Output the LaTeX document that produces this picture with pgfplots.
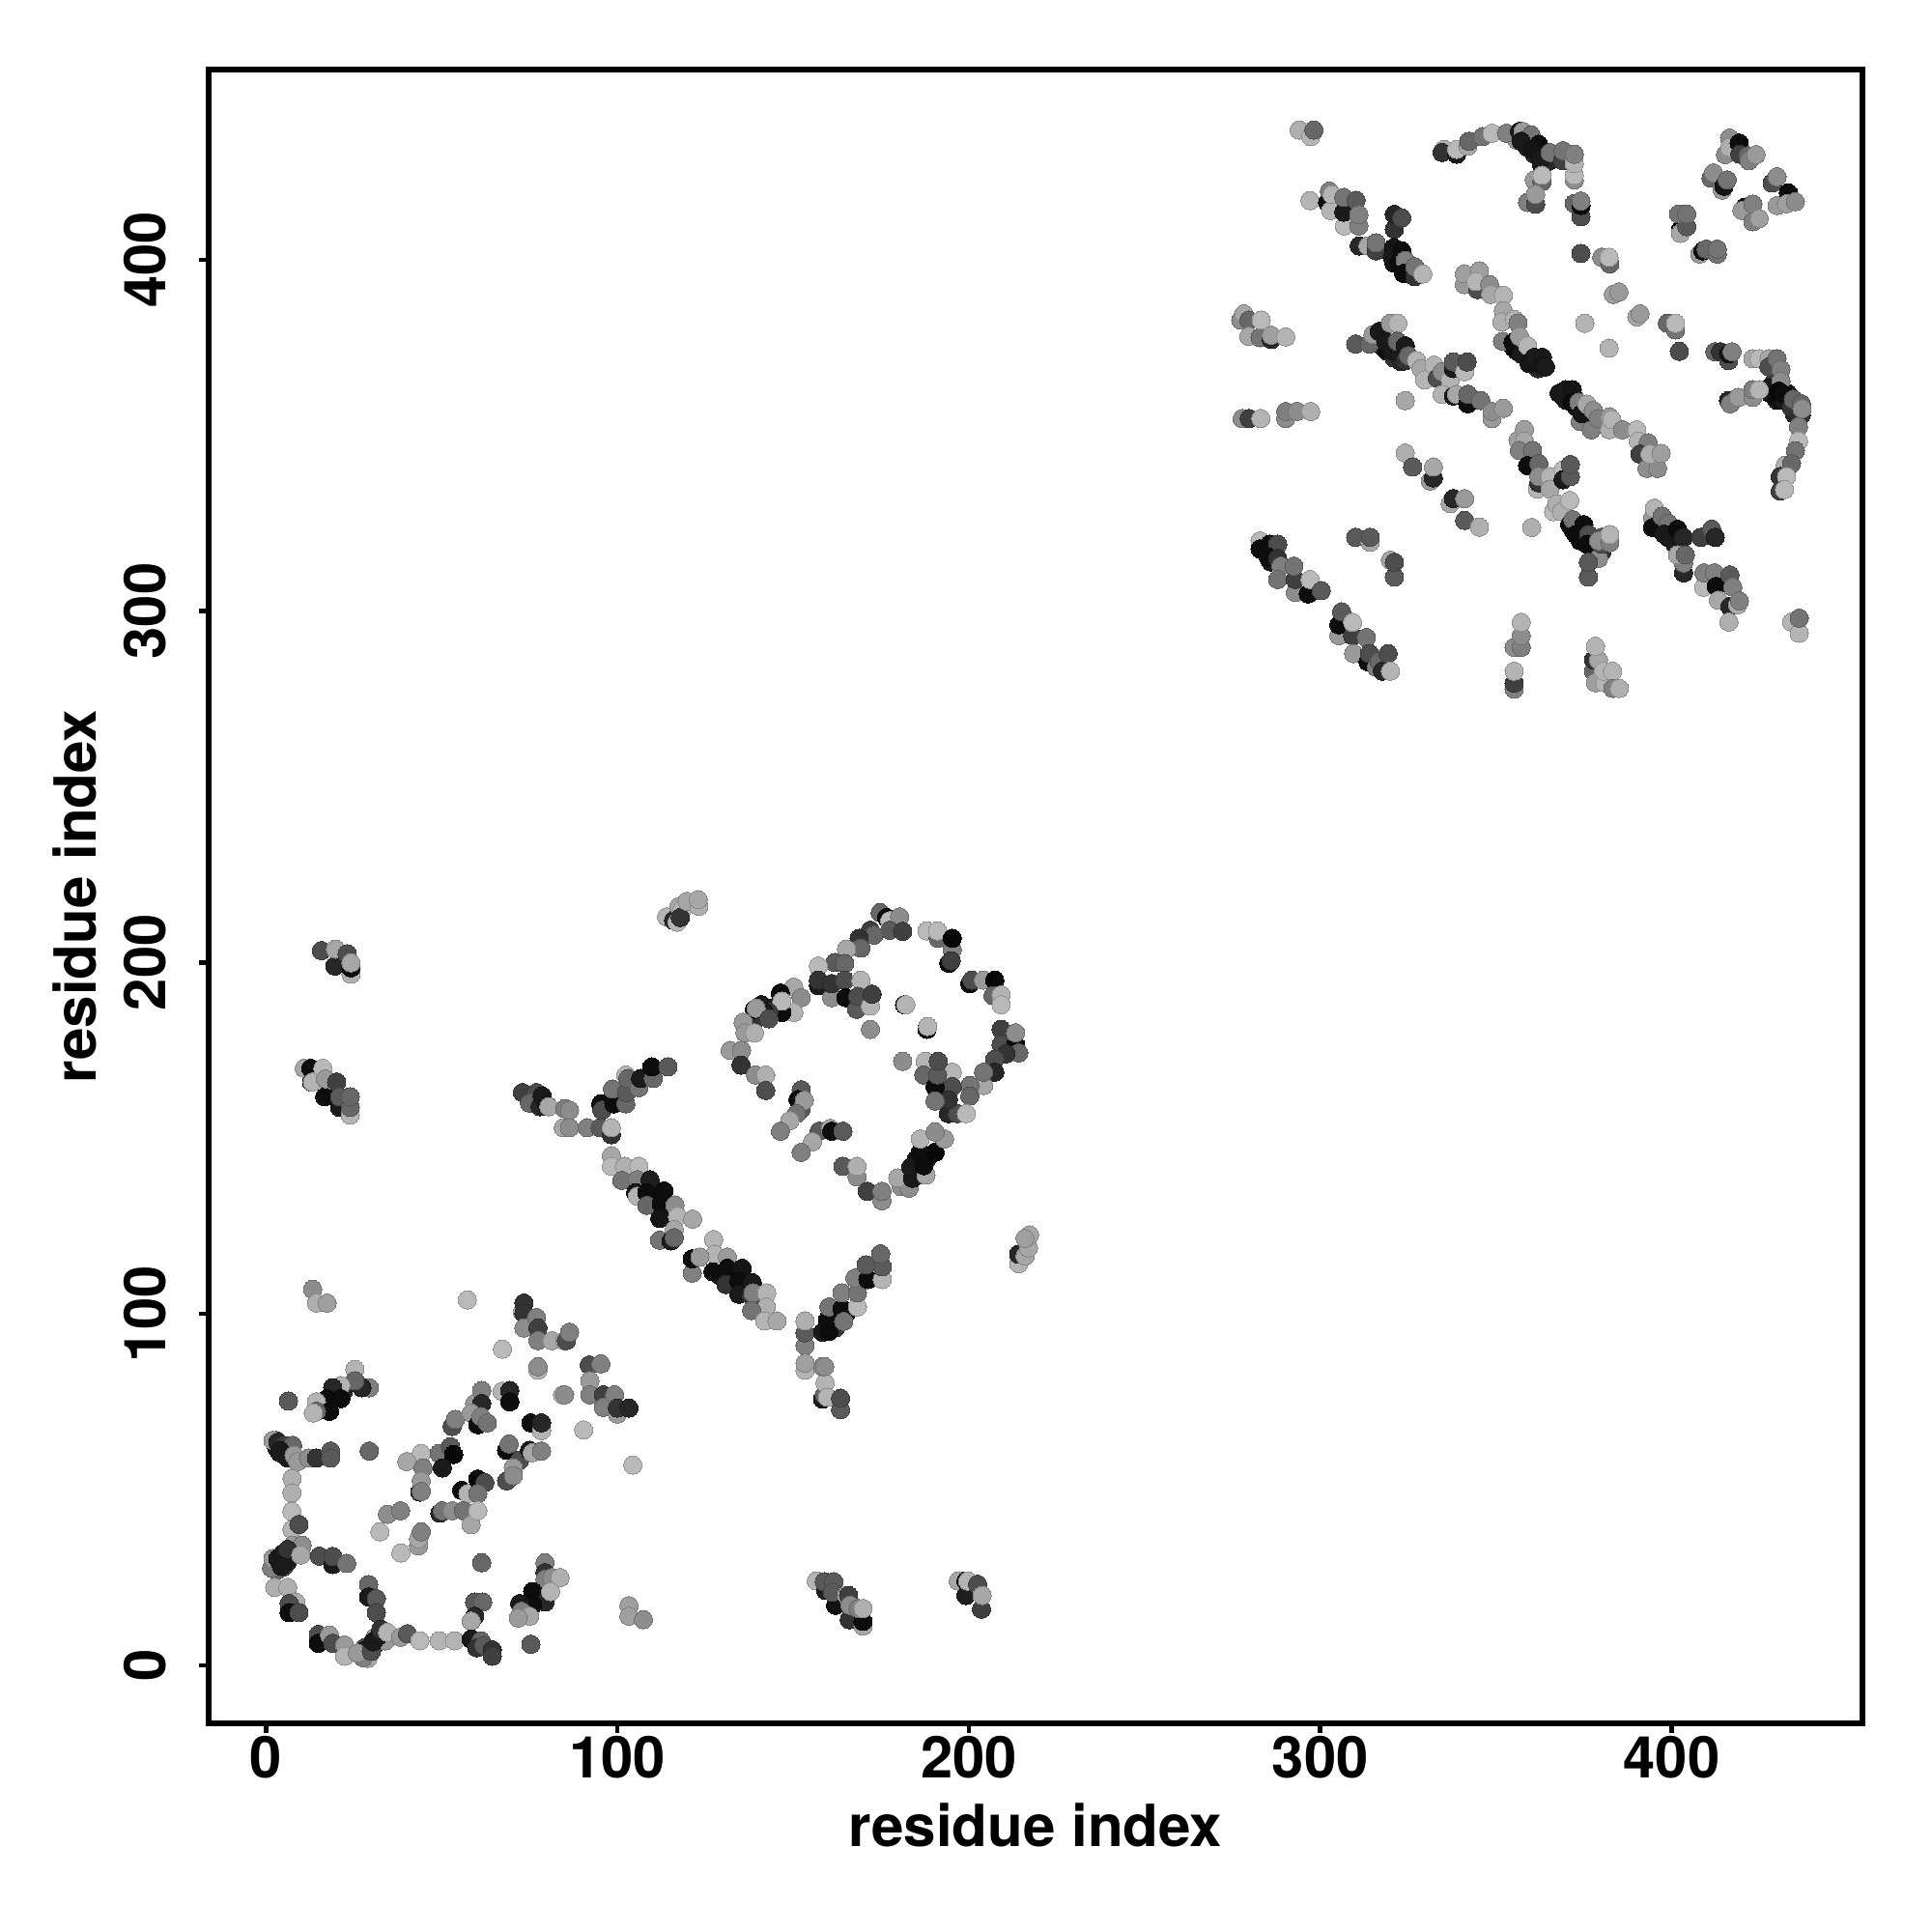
\documentclass[border=0pt]{standalone}
\usepackage{pgfplots}
\pgfplotsset{compat=1.18}
\usepackage{fontspec}
\setmainfont{TeX Gyre Heros}

% residue contacts: x y grey level
\pgfplotstableread{
x y g
3 27 .4
4 29 .1
5 30 .05
6 31 .1
3 29 .15
2 28 .55
5 28 .3
7 31 .3
8 32 .6
27 3 .4
28 3 .1
29 4 .1
30 5 .05
31 6 .05
32 7 .1
33 8 .3
31 8 .6
29 2 .65
28 5 .3
34 7 .6
3 62 .1
4 60.5 .1
5 60 .2
6 61 .3
7 59 .6
3 64 .3
5 62 .35
17 74 .1
19 77 .05
20 78 .1
16 73 .3
22 78 .15
109 133 .05
110 136 .15
111 131 .05
112 133 .1
113 130 .1
114 129 .05
129 111 .1
133 111 .1
135 107 .05
136 110 .1
137 108 .05
131 110 .2
160 97 .1
161 99 .1
162 96 .2
165 100 .1
185 144 .05
186 142 .1
188 144 .1
184 141 .5
141 188 .1
142 186 .6
144 187 .1
145 186 .3
358 435 .15
359 432 .1
360 434 .3
361 430 .15
362 431 .2
363 427 .1
364 429 .2
365 428 .15
356 434 .6
316 378 .15
317 377 .05
318 375 .1
319 374 .05
321 372 .2
322 374 .05
323 371 .15
321 399 .08
322 401 .1
323 398 .1
324 397 .15
325 396 .3
355 375 .1
356 374 .05
358 373 .05
359 372 .1
361 371 .1
362 369 .15
368 362 .1
370 360 .1
372 361 .05
373 358 .1
375 357 .05
376 355 .1
377 354 .08
374 354 .5
372 323 .05
373 322 .1
374 320 .05
375 322 .1
377 319 .05
378 317 .1
380 321 .35
396 325 .1
397 323 .05
398 324 .3
399 321 .05
400 322 .2
401 319 .1
402 320 .05
428 362 .1
430 360 .05
431 364 .05
432 360 .1
433 362 .1
434 359 .1
435 356 .15
429 365 .2
284 318 .05
285 316 .05
286 314 .1
286 318 .15
13.3 107 .55
14.4 103.1 .68
17.4 103.1 .62
57.3 104 .72
73 100.6 .7
73.4 103.1 .2
73.4 100.2 .2
73.4 96 .55
77 99 .5
77.4 96 .25
77.4 92.4 .5
81.4 92.4 .65
85 92.4 .65
85.5 92.4 .3
86.4 94.8 .5
67.3 90 .72
77.4 84 .7
77.4 85 .55
92 85.5 .3
95.3 85.8 .5
92.2 81 .6
92.2 77 .5
96 77 .25
96 73.4 .5
99.2 77 .5
100 71.5 .6
100 73.2 .2
103.3 73.2 .15
84.4 77 .7
85 77 .55
90.4 67 .72
104.4 57 .72
25.3 84.2 .7
29.4 79 .5
27.3 79 .15
25.3 81 .4
21.3 79.6 .7
19 79 .15
21.3 75.9 .05
17.4 75.9 .05
14.4 75 .7
18.1 72.3 .05
14.4 72.3 .4
13.5 71.8 .7
6.4 75.2 .35
2 64 .6
3.4 63.5 .15
5.3 62.6 .25
7.6 62.6 .4
4 61.2 .1
6.2 59 .1
8 59.8 .6
9 58 .6
12.1 59 .55
14.4 59 .2
18.4 61 .35
18.4 59 .35
29.4 61 .4
7.4 53.2 .68
7.4 49.1 .68
7.4 43.8 .72
7.4 38.7 .7
9.4 40.1 .3
7.6 34.2 .6
10.3 34.2 .55
1.6 27.7 .5
2 30.4 .6
3.4 30.4 .1
4.8 31.8 .1
6.2 29.6 .1
6.2 33 .2
4.4 28.2 .1
9.9 31.4 .65
15.2 31.1 .3
19 28.7 .1
19 31 .3
23 29 .45
29.2 23 .4
29.2 19.5 .1
31.4 19 .35
31.4 15 .3
79.4 29.2 .5
79.4 26.4 .2
79.4 24.5 .5
81.4 25 .55
83.7 25 .68
61.4 29.2 .4
75.9 21 .05
79.4 18 .15
75.9 17.2 .05
72.2 17.6 .1
81 21 .7
72.7 15.4 .5
75 14 .65
71.8 13.5 .6
75.4 6 .35
103.3 17 .62
103.3 14 .62
107.4 13 .55
2.5 22.2 .68
6.2 22.2 .68
8.5 18 .68
6.6 17.6 .3
6.6 15 .05
9.4 15 .3
14.9 8.8 .3
14.9 6.3 .05
18.1 8.6 .6
19 6.3 .3
22.4 5.8 .6
22.4 2.6 .7
27.7 2.2 .5
28.2 4.4 .1
26 3.5 .6
30 4 .3
30.5 6.7 .1
32.3 8.6 .1
32.7 10.3 .2
34.6 9.4 .7
38.3 8 .6
40.3 9 .35
43.8 7 .72
49.3 7 .7
53.7 7 .7
59.4 18 .35
61.7 18 .4
59.4 14 .15
58.4 12.6 .65
58.4 7.5 .1
61.2 7 .4
60 5 .2
62 5.7 .35
64.4 4.4 .2
64.4 2.6 .25
59.4 74.5 .6
61.4 78.2 .5
61.4 74.5 .15
67.2 78 .7
69.4 78.2 .15
69.4 75 .05
53 68 .3
53.9 70 .5
58.4 71.8 .6
60.3 68.5 .05
61.2 70.8 .5
63 69 .45
75.4 69 .05
78.4 66.8 .7
78.4 69 .15
68.5 61.2 .05
69.2 63 .45
72.2 58.4 .3
75 61.2 .1
75.8 60.5 .65
78.4 61 .5
70.4 56.2 .6
68.5 52.5 .3
70.4 54 .55
44.2 60.3 .72
40.1 58 .65
44.7 56.2 .5
49.3 60.3 .45
52.5 62.2 .35
53.4 60 .03
50.2 56.2 .1
43.8 49.3 .15
44.2 52.5 .6
44.2 49.5 .5
55.7 49.8 .05
57.5 48.9 .7
60.3 53 .03
62.3 52 .3
60.3 48.9 .45
34.6 43 .55
38.3 44 .5
49.5 43.3 .15
50.2 44 .45
53 44 .55
56.2 44 .45
58.4 40 .65
60.3 44 .72
32.4 38 .72
38.4 32 .72
43.4 34 .6
43.4 36 .65
44.2 38 .5
73 163 .25
77 163 .3
75 160 .4
78 159 .15
78.6 162 .1
80 159.3 .1
80.5 159 .65
85 158.4 .5
86.4 158 .55
84.6 153 .65
86.4 153 .55
91.4 153 .5
95.1 153 .35
98.3 151 .2
98.3 153 .7
95.3 159.8 .05
95.6 158 .3
99 159.8 .05
98.6 164 .45
102.4 159.8 .4
102.6 163 .35
102.4 168 .7
103 167 .4
106.1 164.4 .45
106.6 167 .1
110.2 167 .4
109.8 170.3 .05
114.4 170.3 .35
98.3 145 .65
98.3 142 .72
102 142 .68
106.1 142 .72
101.3 138 .45
105.7 138.2 .5
109.3 138.2 .12
105.2 134.5 .1
105.7 133.5 .7
108.4 134.5 .05
113.3 135 .05
108.4 130.9 .4
112.5 131.3 .05
116.4 131 .55
112.1 127.2 .08
117.1 127.8 .7
121.4 127 .65
116.2 124 .65
112 121 .45
115.3 120.8 .1
116.2 121.7 .4
127.4 121.2 .7
127.7 117 .7
131.3 116.2 .6
121.3 111.6 .5
121.3 115.7 .05
123.5 116.2 .6
127.2 112 .05
131.3 113 .05
130.9 108.4 .2
135.5 113 .08
134.6 109.3 .05
138.4 108.9 .1
134.6 105.6 .1
138.2 105.2 .25
138.6 106 .5
142.5 106 .7
142.4 102 .68
138.2 101 .45
141.9 98 .7
145.4 98 .65
153.4 91 .5
153.4 94.6 .35
153.4 98 .68
153.4 84 .7
153.4 86 .62
158.4 75.8 .1
158.9 77 .4
159.1 80.4 .7
158.4 85 .55
159 85 .55
159.8 76.3 .7
163.5 72.8 .35
163.5 76 .3
158.4 94.8 .1
160.2 95 .05
159.8 98.3 .05
160.2 102 .45
163.9 101.5 .05
164.4 97.9 .45
163.9 106 .5
168.3 102 .72
168.3 106 .45
167.6 110.2 .5
171.3 109.8 .05
175.4 109.8 .7
170.8 114 .35
175.4 113.4 .35
174.9 117.1 .4
114 213 .7
116 212 .15
117 211.5 .7
117.5 216 .65
118.4 215 .7
117.9 212.8 .2
119.8 217.4 .65
123.2 216 .68
123 217.9 .65
174.8 214.2 .4
176.6 212.8 .05
177.5 211.9 .72
180.3 213 .55
177.5 209.2 .35
172 209.2 .25
173 207.8 .4
168.8 206.9 .2
181.2 208.9 .25
169.3 204.1 .4
165.2 203.8 .65
161.9 200 .35
164.7 199.7 .4
157.2 199 .72
188.1 209 .72
191.3 206.9 .4
191.1 209 .72
195.3 203.7 .5
194.3 199.8 .05
195 200.5 .25
195.3 206.9 .03
200.3 194 .05
200.9 195 .3
204.2 195 .6
207.4 195 .03
206.9 190.6 .4
209.2 190.8 .7
209.2 188 .72
157.2 193.4 .1
157.2 195 .2
161 190 .55
161 194 .2
164.7 195 .3
165 190 .05
169.3 195 .7
168.1 186.7 .35
168.4 190.4 .3
172 187.6 .7
172.5 191 .25
172 181 .55
181.7 188 .03
182.1 188 .7
188.1 181 .03
188.3 181.8 .7
150.2 193 .65
152.3 190 .55
150.2 185.8 .7
146.4 191.3 .05
146.8 185.8 .05
146.8 189 .72
143.1 185.8 .25
141.8 186 .1
139.5 184 .2
139 186.7 .05
139.5 187 .6
143.1 184 .3
135.8 183 .6
136.3 180 .6
139 180 .68
132.1 175 .6
135.3 175 .55
135.2 170.8 .2
139.3 168 .55
142.2 168 .68
142.2 163.6 .3
152.3 163.8 .35
151.4 161 .05
152.3 158.3 .35
153.2 160.8 .6
151 157 .45
149.1 155 .65
146.4 152 .5
157.4 152 .35
160.6 152.8 .65
161 152 .05
164.2 152 .35
155.5 149 .65
152.3 146 .5
164.2 142 .35
168.2 139 .55
168.2 142 .68
171.1 134.9 .25
175.3 132.2 .55
175.3 134.9 .5
180.8 136.2 .55
183 135.8 .55
179.8 138.7 .65
184 138.6 .1
183.5 141.8 .1
187.2 139.5 .1
187.8 139.5 .65
187.2 142.2 .05
186.2 146 .05
190.4 146 .03
186.2 149.8 .7
193.1 149.8 .6
190.4 151.8 .55
209.2 181 .25
209.2 176.6 .3
213.3 176.6 .05
213.3 180 .55
214.2 174.3 .4
210.6 174 .2
207.4 172.5 .3
207.4 168.8 .15
204.2 165 .65
204.2 168.8 .45
200.3 165 .45
200.3 162 .4
195.3 168.8 .7
194.2 157 .15
196.8 157 .3
199.3 157 .72
195.3 164.7 .3
194.2 161 .2
187.6 171.9 .7
187.2 168 .4
190.4 164.7 .05
190.4 160.6 .45
191.1 168 .35
191.3 171.9 .3
181.2 171.9 .55
214.2 114.3 .7
214.2 117 .15
216 116.5 .65
217 118.8 .65
217.3 122.5 .65
216 121.5 .62
294 436.9 .68
297.3 435 .7
298.2 436.9 .4
335.2 431.4 .7
334.7 430.5 .2
338.8 430 .1
338.8 431.4 .72
342 432.3 .65
342.3 433.7 .4
346.2 435 .45
348.9 436 .72
353 436 .5
356.7 436.5 .1
357.7 436.5 .6
360 435.5 .45
357.2 433.7 .1
362.2 432.8 .05
360.4 431.4 .08
362.7 428.7 .1
365.4 430.5 .45
369 428.2 .25
369.1 431 .45
372.3 422.7 .55
372.3 424 .72
372.3 427.3 .7
372.3 430 .5
360.9 422.7 .6
363.1 422.2 .4
363.1 424 .72
359 416.3 .5
361.3 415.8 .3
361.3 418.6 .6
372.3 416 .4
374.2 412.2 .3
374.2 415.4 .05
374.2 416.7 .5
374.2 401.8 .3
380.1 400.7 .55
382.4 398.8 .4
382.2 400.7 .72
383.4 390.1 .62
385 390.8 .6
375.3 381.9 .7
382.2 374.8 .7
390.1 383.7 .65
391 384.6 .6
398.8 381.9 .4
401.1 380 .45
401.1 381.9 .72
402.2 373.9 .3
412.3 373.8 .4
413.9 373.8 .2
416.2 371.3 .3
416.2 373.2 .08
417.2 373.8 .5
423.1 371.8 .65
424.9 371.8 .72
427.7 371.8 .65
427.7 369.5 .3
430 371.8 .45
431.1 368.8 .5
427.7 363.5 .1
431.1 365.4 .55
430.5 362.6 .03
431.8 361.7 .05
434.1 358 .2
434.6 360.3 .4
436.9 355.8 .2
436.9 359 .4
437.1 357.6 .55
436.1 352.5 .5
436.1 348.4 .72
435.2 345.6 .45
432.3 341.5 .68
434.1 342 .4
430.9 338.3 .2
432.7 338.3 .72
430.9 334.2 .25
432.1 334.6 .72
416.2 359.9 .15
416.7 359 .5
419 360.8 .6
423.1 360.8 .55
423.1 363 .5
424.9 363 .7
415.3 429.9 .55
416.5 434.6 .55
416.5 431.9 .68
419.2 433.2 .05
419.4 430 .25
421.7 429.6 .4
422 428.2 .5
424 429.9 .6
411.2 423.2 .4
411.9 424.7 .55
414.4 419.8 .6
414.9 420.9 .08
415.8 422.7 .45
428.6 421.8 .3
430 423.6 .55
430 415.4 .6
433.2 419 .05
432.7 415.9 .62
435.2 416.5 .55
420.8 414.9 .05
420 414 .6
423.1 415.8 .5
423.1 410.8 .5
424.9 411.7 .62
402.5 408.5 .03
402.5 407.5 .65
404.3 409.4 .35
402 413 .45
404.3 413 .45
408 401.6 .6
408.9 402.5 .05
409.8 403 .4
413 401.6 .45
413 403 .45
297.1 416.8 .7
302.1 416.3 .05
303 414 .7
302.6 419.5 .5
303.4 418.5 .7
306.9 409.6 .72
306.7 413.5 .1
306.7 417.7 .45
311 409.6 .5
310.2 416.9 .35
311 412.8 .5
321.1 408.7 .2
321.1 412.9 .15
323.2 411.9 .3
311.1 403.9 .15
313.6 403.9 .65
315.9 402.5 .25
315.9 404.8 .45
320.9 403.4 .08
320.5 400.7 .1
323.2 402.5 .05
322.3 398.9 .05
324.2 399.8 .5
323.7 396.1 .05
326.9 395.2 .2
326.9 398 .45
329.2 395.9 .7
341 392.9 .6
341 396 .62
345.3 396.8 .62
344.8 391.5 .3
344.3 393.8 .7
348.2 392.9 .55
348.5 390.1 .65
352.1 389.9 .7
352.1 385.5 .65
351.7 382.3 .68
355.2 383 .7
356.3 382 .5
351.9 376.8 .5
354.9 376.4 .05
356.7 378.2 .6
357.2 373.2 .1
359 375.5 .7
359.5 370.4 .08
360.9 372.2 .1
363.2 372.2 .1
363.2 370 .08
364.1 369.5 .1
277.4 382.8 .55
278.3 384.6 .65
279.7 382.8 .4
279.7 378.2 .65
282.9 377.8 .45
286.1 377.3 .15
286.1 378.5 .62
283.2 382.8 .72
290.2 378 .7
277.8 354.8 .55
279.8 354.8 .25
283.1 354.8 .7
290.2 354.8 .55
290.2 356.8 .5
293.4 356.8 .55
297.3 356.8 .68
310.1 376 .35
314 376 .4
315 378.7 .6
316.8 379.6 .1
318.6 376.8 .1
320 381.9 .6
322.1 381.9 .7
320.5 374 .1
321.9 376.8 .4
324.2 375.5 .1
324.2 371.3 .2
325.1 372.7 .4
327.4 371.3 .7
328.7 369 .65
329.7 365.8 .7
332.4 370 .7
333.3 366.3 .3
334.7 368.1 .55
337 365.8 .7
334.7 361.7 .7
337.9 369 .1
337.9 370.9 .35
341.1 368.1 .72
341.8 370.9 .3
337.9 361.2 .1
338.8 361.7 .65
342 359 .05
342 361.7 .4
345.7 359.9 .45
348.9 354.8 .6
348.9 356.8 .55
352.1 357.7 .6
324.2 359.9 .65
369 361.2 .1
369.9 363 .1
371.7 363 .08
371.7 359.4 .05
373.6 359.4 .5
374.5 356.2 .08
377.1 351.6 .5
375.9 358.9 .65
377.7 357.1 .55
379.1 354.8 .5
382.3 351.6 .68
382.3 355.3 .6
383 354.5 .7
386 351.6 .55
390.1 351.6 .72
390.5 348.4 .7
393.3 347.9 .5
391 344.7 .25
393 340.6 .55
396 340.6 .55
393.8 344.7 .68
397 344.9 .62
356.3 348.6 .62
358.1 351.7 .62
358.1 348.4 .65
356.7 345.7 .5
360.4 345.7 .45
359 341.4 .05
362.2 342 .4
361.8 334.7 .7
362.2 336.5 .2
362.2 338.3 .55
365.4 338.3 .7
365.4 334.7 .65
366.4 328.3 .72
367.3 330.5 .68
368.7 328.3 .68
369.1 340.2 .72
369.1 337.4 .1
371.2 338.3 .35
371.2 341.7 .35
371 331.5 .72
371 324.6 .05
371.9 326 .45
375 324.6 .05
372.8 321.8 .05
376.4 321.8 .3
376 319 .05
380.1 316.8 .2
379.2 315 .55
380.1 319 .3
379.2 320 .55
382.4 319.5 .5
382.4 321.8 .7
376.3 309.7 .35
376.3 313.9 .35
360.2 323.8 .68
324.2 345 .68
326.3 341 .35
331.3 337 .6
332.2 337.9 .15
332.2 341 .65
337 330.6 .65
337.9 332 .15
341.1 332 .6
341.1 325.8 .35
345.3 323.9 .68
310.1 321 .35
314.2 319.6 .65
314.2 321 .35
320 314.5 .65
321.1 309.7 .35
321.1 313.9 .3
282.9 320 .72
282.9 317.7 .05
285.6 319 .05
287.9 319 .3
285.2 315.4 .05
287.9 315 .2
288.8 312.8 .5
287.9 309 .45
292.9 305.3 .55
292.9 309 .25
292.5 312.8 .45
296.6 304.9 .05
297.1 309 .72
300.3 305.8 .35
305.3 293 .6
305.3 296.1 .05
306.1 299.8 .35
309.2 293 .25
309.2 296.8 .72
313.1 292.5 .45
309.5 287.9 .6
313.6 285.6 .05
314 287.9 .3
316 284 .5
316.8 285.6 .4
317.7 282.9 .15
319.3 287.9 .3
320 282.9 .7
355.2 289.7 .55
357.2 289.7 .5
357.2 293 .55
357.2 296.8 .7
355.2 277.8 .5
355.2 279.5 .25
355.2 282.9 .7
377.8 282.9 .4
377.8 286.1 .2
378.3 279.6 .62
381 279.6 .7
379.2 286.1 .65
378.3 290 .7
380.6 282.9 .7
383.2 282.9 .7
383.3 278 .5
385.1 278 .68
394.6 326.5 .6
395.1 329.3 .7
394.6 323.8 .05
397.3 327 .45
399 325.1 .45
397.9 321.9 .1
400 320.5 .1
401.7 323.3 .05
403.4 321 .15
403.4 310.9 .15
403.4 313.7 .5
401.7 316 .65
403.9 316 .4
408.3 321 .25
411.4 323.3 .35
412.4 321 .15
409.1 306.8 .72
409.2 310.9 .5
412.2 310.9 .5
412.7 307 .05
413.3 303.1 .65
416.6 301.3 .15
416.6 310.3 .35
417.4 306.8 .5
418.8 301.8 .68
419.3 302.9 .5
416.3 296.9 .68
434.1 296.9 .7
436.3 293.7 .7
436.3 298 .45
156.6 24 .7
159.3 21.3 .12
158.9 23.8 .35
162.1 17.1 .07
161.6 23.8 .35
161.2 20.8 .35
165.3 19.9 .7
165.8 19.9 .25
166 13 .2
166.2 17.1 .55
169.9 11.2 .65
169.9 12.5 .05
168.5 16.2 .5
169.9 16.2 .68
197 24 .65
199.2 24 .05
199.2 19.9 .12
199.7 24 .7
203.6 16 .25
202.5 23.1 .3
203.8 19.9 .65
15.8 203.4 .3
19.6 199 .15
19.8 203.8 .65
23.1 202.5 .3
24.2 196.7 .68
24.2 198.5 .05
24.2 199.9 .65
10.9 169.9 .65
12.8 169.9 .05
13 166 .05
13.2 166 .7
16.2 169.9 .72
16.7 161.8 .05
16.9 166.9 .6
20.1 166 .25
21 158.8 .1
21 161.8 .35
24 156.6 .7
24 158.8 .4
24 161.8 .4
}\contacts

\begin{document}
\begin{tikzpicture}
\path[use as bounding box] (0,0) rectangle (200mm,200mm);
\begin{axis}[
    at={(21.6mm,21.6mm)},
    anchor=south west,
    scale only axis,
    width=171.2mm,
    height=171.2mm,
    xmin=-16.3, xmax=454.3,
    ymin=-16.5, ymax=454.1,
    xtick={0,100,200,300,400},
    ytick={0,100,200,300,400},
    xtick pos=bottom,
    ytick pos=left,
    tick align=outside,
    major tick length=1mm,
    axis line style={line width=0.55mm},
    tick style={line width=0.45mm,black},
    /pgf/number format/assume math mode=true,
    tick label style={font=\fontsize{17}{20}\selectfont\bfseries},
    xticklabel style={anchor=base,yshift=-4.6mm},
    yticklabel style={rotate=90,anchor=base,yshift=3.4mm},
    label style={font=\fontsize{17.1}{20}\selectfont\bfseries},
    xlabel={residue index},
    ylabel={residue index},
    xlabel style={at={(axis description cs:0.5,-0.0745)},anchor=base},
    ylabel style={at={(axis description cs:-0.0683,0.5)},anchor=base},
    colormap={greys}{gray(0cm)=(0); gray(1cm)=(1)},
    point meta min=0,
    point meta max=1,
]
\addplot[
    scatter,
    only marks,
    mark=*,
    mark size=0.95mm,
    line width=0pt,
    scatter src=explicit,
] table[x=x,y=y,meta=g] {\contacts};
\end{axis}
\end{tikzpicture}
\end{document}
